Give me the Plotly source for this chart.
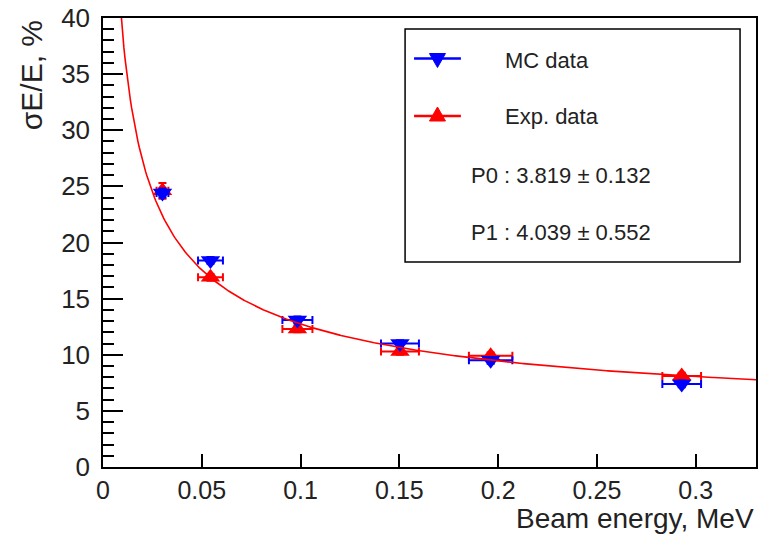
import numpy as np
import plotly.graph_objects as go

# ---- data ----
energy = [0.0301, 0.0544, 0.0984, 0.1503, 0.1962, 0.2929]
energy_err = [0.0030, 0.0063, 0.0076, 0.0096, 0.0110, 0.0098]
mc_res = [24.4, 18.4, 13.1, 11.0, 9.5, 7.4]
mc_res_err = [0.4, 0.3, 0.3, 0.3, 0.3, 0.3]
exp_res = [24.6, 16.9, 12.3, 10.3, 9.9, 8.1]
exp_res_err = [0.7, 0.3, 0.3, 0.3, 0.3, 0.3]

# fit parameters shown in the legend:  sigmaE/E = sqrt(P0^2/E + P1^2)
P0, P0_err = 3.819, 0.132
P1, P1_err = 4.039, 0.552

x_ticks = [0, 0.05, 0.1, 0.15, 0.2, 0.25, 0.3]
x_tick_text = ["0", "0.05", "0.1", "0.15", "0.2", "0.25", "0.3"]
y_ticks = [0, 5, 10, 15, 20, 25, 30, 35, 40]

# ---- layout geometry ----
W, H = 758, 535
L, R, T, B = 103, 0, 18, 68
PW, PH = W - L - R, H - T - B

def pxx(px):
    return (px - L) / PW

def pxy(py):
    return (H - B - py) / PH

FONT = "Liberation Sans, Arial, Helvetica, sans-serif"

fig = go.Figure()

fig.add_trace(go.Scatter(
    x=energy, y=exp_res, mode="markers", name="Exp. data",
    marker=dict(symbol="triangle-up", size=17, color="#ff0000"),
    error_x=dict(type="data", array=energy_err, color="#ff0000", thickness=2, width=4),
    error_y=dict(type="data", array=exp_res_err, color="#ff0000", thickness=2, width=4),
    showlegend=False,
))
fig.add_trace(go.Scatter(
    x=energy, y=mc_res, mode="markers", name="MC data",
    marker=dict(symbol="triangle-down", size=17, color="#0000ff"),
    error_x=dict(type="data", array=energy_err, color="#0000ff", thickness=2, width=4),
    error_y=dict(type="data", array=mc_res_err, color="#0000ff", thickness=2, width=4),
    showlegend=False,
))

e_fit = np.linspace(0.008, 0.3305, 500)
res_fit = np.sqrt(P0 ** 2 / e_fit + P1 ** 2)
fig.add_trace(go.Scatter(
    x=e_fit, y=res_fit, mode="lines", name="fit",
    line=dict(color="#ff0000", width=1.6), showlegend=False,
))

# ---- legend box drawn by hand (ROOT style) ----
shapes = [
    dict(type="rect", xref="paper", yref="paper",
         x0=pxx(406), x1=pxx(742), y0=pxy(262), y1=pxy(29),
         line=dict(color="black", width=1.5), fillcolor="white", layer="below"),
]
for py, col, up in [(58.5, "#0000ff", False), (116, "#ff0000", True)]:
    shapes.append(dict(type="line", xref="paper", yref="paper",
                       x0=pxx(415), x1=pxx(462), y0=pxy(py), y1=pxy(py),
                       line=dict(color=col, width=2.5)))
    path = "M -8 -5 L 8 -5 L 0 9 Z" if up else "M -8 5 L 8 5 L 0 -9 Z"
    shapes.append(dict(type="path", xref="paper", yref="paper",
                       xsizemode="pixel", ysizemode="pixel",
                       xanchor=pxx(438.5), yanchor=pxy(py),
                       path=path, fillcolor=col, line=dict(color=col, width=1)))

annotations = [
    dict(text="MC data", xref="paper", yref="paper", x=pxx(504), y=pxy(60),
         xanchor="left", yanchor="middle", showarrow=False,
         font=dict(family=FONT, size=22, color="#222")),
    dict(text="Exp. data", xref="paper", yref="paper", x=pxx(504), y=pxy(117),
         xanchor="left", yanchor="middle", showarrow=False,
         font=dict(family=FONT, size=22, color="#222")),
    dict(text=f"P0 : {P0:.3f} \u00b1 {P0_err:.3f}", xref="paper", yref="paper",
         x=pxx(470), y=pxy(175), xanchor="left", yanchor="middle", showarrow=False,
         font=dict(family=FONT, size=22, color="#222")),
    dict(text=f"P1 : {P1:.3f} \u00b1 {P1_err:.3f}", xref="paper", yref="paper",
         x=pxx(470), y=pxy(232), xanchor="left", yanchor="middle", showarrow=False,
         font=dict(family=FONT, size=22, color="#222")),
    dict(text="Beam energy, MeV", xref="paper", yref="paper", x=1.0, y=pxy(518),
         xanchor="right", yanchor="middle", showarrow=False,
         font=dict(family=FONT, size=28, color="#222")),
    dict(text="\u03c3E/E, %", xref="paper", yref="paper", x=pxx(31), y=1.0,
         xanchor="center", yanchor="top", textangle=-90, showarrow=False,
         font=dict(family=FONT, size=30, color="#222")),
]

fig.update_layout(
    width=W, height=H,
    margin=dict(l=L, r=R, t=T, b=B, pad=0),
    paper_bgcolor="white", plot_bgcolor="white",
    shapes=shapes, annotations=annotations,
    showlegend=False,
    font=dict(family=FONT, size=25, color="#222"),
)
fig.update_xaxes(
    range=[0, 0.3305], tickvals=x_ticks, ticktext=x_tick_text,
    ticks="inside", ticklen=13, tickwidth=1.5, tickcolor="black",
    showline=True, linecolor="black", linewidth=1.5, mirror=True,
    showgrid=False, zeroline=False, ticklabelstandoff=0,
    tickfont=dict(family=FONT, size=25, color="#222"),
)
fig.update_yaxes(
    range=[0, 40], tickvals=y_ticks,
    ticks="inside", ticklen=20, tickwidth=1.5, tickcolor="black",
    minor=dict(dtick=1, ticks="inside", ticklen=11, tickwidth=1.5, tickcolor="black"),
    showline=True, linecolor="black", linewidth=1.5, mirror=True,
    showgrid=False, zeroline=False, ticklabelstandoff=6,
    tickfont=dict(family=FONT, size=26, color="#222"),
)

fig.write_html(
    "out.html",
    config={"displayModeBar": False},
    post_script="document.body.style.margin='0';document.body.style.padding='0';",
)
